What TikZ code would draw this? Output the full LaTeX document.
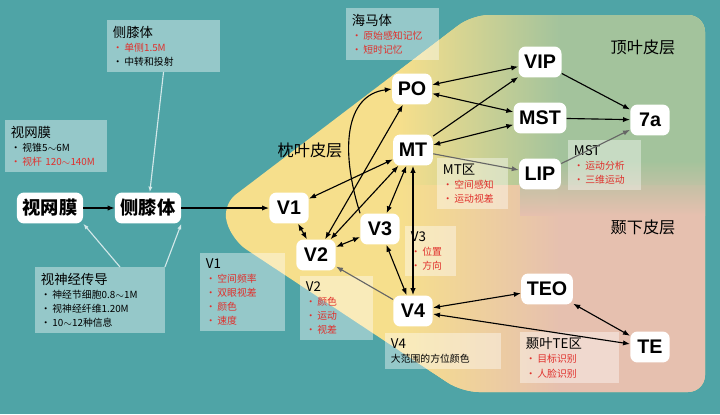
\documentclass[tikz,border=0pt]{standalone}
\usepackage{fontspec}
\setmainfont{Noto Sans CJK SC}
\newfontfamily\nodefont{Liberation Sans}
\usetikzlibrary{arrows.meta,calc}
\definecolor{bgteal}{HTML}{4FA4A6}
\definecolor{cyel}{HTML}{F6DF8C}
\definecolor{cgreen}{HTML}{A3C39C}
\definecolor{cpink}{HTML}{E6C0AF}
\definecolor{cred}{HTML}{E0302C}
\tikzset{
  area/.style={font=\nodefont\bfseries\fontsize{14}{14}\selectfont,fill=white,rounded corners=5pt,
    minimum height=22pt,minimum width=28pt,inner xsep=4pt},
  infobox/.style={fill=white,fill opacity=.4,text opacity=1,anchor=north west,align=left,
    inner sep=4pt,font=\fontsize{7}{10}\selectfont},
  region/.style={font=\fontsize{11.5}{12}\selectfont},
  link/.style={thick,{Latex[length=5pt]}-{Latex[length=5pt]}},
  feed/.style={thick,-{Latex[length=5pt]}},
  faint/.style={gray!80!black,thick,-{Latex[length=5pt]}},
  pale/.style={white!75!bgteal,thick,-{Latex[length=4pt]}}
}
\newcommand{\hd}[1]{{\fontsize{9.5}{13}\selectfont #1}\\}
\newcommand{\rb}[1]{\textcolor{cred}{\textbullet\,#1}\\}
\newcommand{\kb}[1]{\textbullet\,#1\\}
\begin{document}
\begin{tikzpicture}[x=0.025cm,y=-0.025cm]
\fill[bgteal] (0,0) rectangle (720,414);
% occipital / parietal / temporal areas
\begin{scope}
\clip[rounded corners=12pt] (472,15) -- (705,15) -- (705,392) -- (462,392) -- (232,240) -- (222,205) -- cycle;
\fill[cyel] (0,0) rectangle (720,414);
\shade[left color=cyel,right color=cgreen] (400,0) rectangle (560,185);
\fill[cgreen] (560,0) rectangle (720,185);
\shade[left color=cyel,right color=cpink] (400,185) rectangle (560,414);
\fill[cpink] (560,185) rectangle (720,414);
\shade[top color=cgreen,bottom color=cpink,opacity=.9] (520,160) rectangle (720,215);
\end{scope}

\node[region] at (310,150) {枕叶皮层};
\node[region] at (643,47) {顶叶皮层};
\node[region] at (643,227) {颞下皮层};

% info boxes
\node[infobox,text width=72pt] (lgnbox) at (107,20) {\hd{侧膝体}\rb{单侧1.5M}\kb{中转和投射}};
\node[infobox,text width=64pt] (retbox) at (5,120) {\hd{视网膜}\kb{视锥5$\sim$6M}\rb{视杆 120$\sim$140M}};
\node[infobox,text width=84pt] (optbox) at (35,267) {\hd{视神经传导}\kb{神经节细胞0.8$\sim$1M}\kb{视神经纤维1.20M}\kb{10$\sim$12种信息}};
\node[infobox,text width=52pt] (v1box) at (200,253) {\hd{V1}\rb{空间频率}\rb{双眼视差}\rb{颜色}\rb{速度}};
\node[infobox,text width=44pt] (v2box) at (300,276) {\hd{V2}\rb{颜色}\rb{运动}\rb{视差}};
\node[infobox,text width=28pt] (v3box) at (405,226) {\hd{V3}\rb{位置}\rb{方向}};
\node[infobox,text width=74pt] (v4box) at (385,333) {\hd{V4}大范围的方位颜色};
\node[infobox,text width=42pt] (mtbox) at (437,158) {\hd{MT区}\rb{空间感知}\rb{运动视差}};
\node[infobox,text width=58pt] (hipbox) at (346,8) {\hd{海马体}\rb{原始感知记忆}\rb{短时记忆}};
\node[infobox,text width=44pt] (mstbox) at (568,140) {\hd{MST}\rb{运动分析}\rb{三维运动}};
\node[infobox,text width=62pt] (tebox) at (520,332) {\hd{颞叶TE区}\rb{目标识别}\rb{人脸识别}};

% areas
\node[area,font=\bfseries\fontsize{13}{13}\selectfont] (ret) at (50,208) {视网膜};
\node[area,font=\bfseries\fontsize{13}{13}\selectfont] (lgn) at (148,208) {侧膝体};
\node[area] (v1) at (289,208) {V1};
\node[area] (v2) at (316,255) {V2};
\node[area] (v3) at (380,229) {V3};
\node[area] (v4) at (413,311) {V4};
\node[area] (po) at (412,89) {PO};
\node[area] (mt) at (413,150) {MT};
\node[area] (vip) at (540,62) {VIP};
\node[area] (mst) at (540,118) {MST};
\node[area] (lip) at (540,174) {LIP};
\node[area] (a7) at (650,120) {7a};
\node[area] (teo) at (547,289) {TEO};
\node[area] (te) at (650,347) {TE};

% pathways
\draw[pale] (lgnbox.south) -- (lgn);
\draw[pale] ($(optbox.north west)+(85,0)$) -- (ret.south east);
\draw[pale] (optbox.north east) -- (lgn.south east);
\draw[feed] (ret) -- (lgn);
\draw[feed] (lgn) -- (v1);
\draw[link] (v1) -- (v2);
\draw[link] (v1) -- (mt);
\draw[link] (v2) -- (po);
\draw[link] (v2) -- (mt);
\draw[link] (v2) -- (v3);
\draw[link] (v3) -- (mt);
\draw[link] (v3) -- (v4);
\draw[link] (mt) -- (v4);
\draw[feed] (v3.north west) .. controls (340,150) and (345,95) .. (po.west);
\draw[faint] (v4) -- (v2);
\draw[faint] (mt) -- (lip);
\draw[link] (po) -- (vip);
\draw[link] (po) -- (mst);
\draw[feed] (mt) -- (vip);
\draw[link] (mt) -- (mst);
\draw[feed] (vip) -- (a7);
\draw[feed] (mst) -- (a7);
\draw[faint] (lip) -- (a7);
\draw[link] (v4) -- (teo);
\draw[link] (teo) -- (te);
\draw[link] (v4) -- (te);
\end{tikzpicture}
\end{document}
